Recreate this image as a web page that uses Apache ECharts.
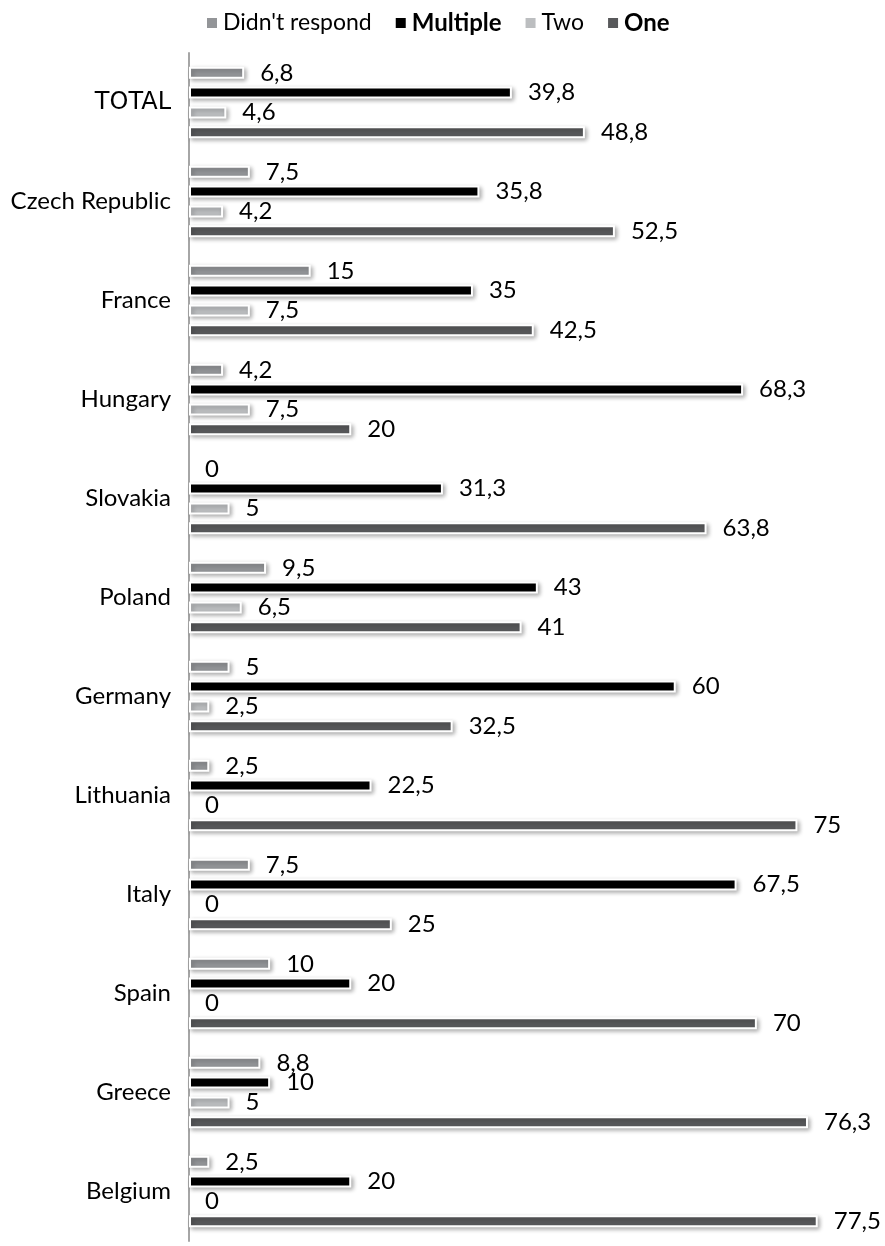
<!DOCTYPE html>
<html>
<head>
<meta charset="utf-8">
<script src="https://cdn.jsdelivr.net/npm/echarts@6/dist/echarts.min.js"></script>
<style>
  html, body { margin: 0; padding: 0; background: #fff; }
  #chart { width: 885px; height: 1246px; }
</style>
</head>
<body>
<div id="chart"></div>
<script>
// Countries, top to bottom
const categories = ['TOTAL', 'Czech Republic', 'France', 'Hungary', 'Slovakia', 'Poland',
  'Germany', 'Lithuania', 'Italy', 'Spain', 'Greece', 'Belgium'];

// Share of answers (%)
const didntRespond = [6.8, 7.5, 15, 4.2, 0, 9.5, 5, 2.5, 7.5, 10, 8.8, 2.5];
const multiple     = [39.8, 35.8, 35, 68.3, 31.3, 43, 60, 22.5, 67.5, 20, 10, 20];
const two          = [4.6, 4.2, 7.5, 7.5, 5, 6.5, 2.5, 0, 0, 0, 5, 0];
const one          = [48.8, 52.5, 42.5, 20, 63.8, 41, 32.5, 75, 25, 70, 76.3, 77.5];

const seriesNames = ["Didn't respond", 'Multiple', 'Two', 'One'];
const seriesData = [didntRespond, multiple, two, one];
const colors = ['#939598', '#000000', '#BCBEC0', '#58595B'];
const boldNames = { 'Multiple': true, 'One': true };

const FONT = 'Lato, "Open Sans", sans-serif';

const chart = echarts.init(document.getElementById('chart'), null, { renderer: 'canvas' });

// Zero-length bars get no border or shadow so nothing shows at the axis
const toItems = arr => arr.map(v => v === 0
  ? { value: v, itemStyle: { borderWidth: 0, shadowBlur: 0, shadowOffsetX: 0, shadowOffsetY: 0, shadowColor: 'rgba(0,0,0,0)' } }
  : v);

const series = seriesNames.map((name, i) => ({
  name,
  type: 'bar',
  data: toItems(seriesData[i]),
  barWidth: 12,
  barGap: '65%',
  itemStyle: {
    color: colors[i],
    borderColor: '#ffffff',
    borderWidth: 2,
    shadowColor: 'rgba(0,0,0,0.3)',
    shadowBlur: 4,
    shadowOffsetX: 2,
    shadowOffsetY: 2
  },
  label: {
    show: true,
    position: 'right',
    distance: 16,
    color: '#000',
    fontFamily: FONT,
    fontSize: 24,
    formatter: p => String(p.value).replace('.', ',')
  }
}));

chart.setOption({
  animation: false,
  backgroundColor: '#ffffff',
  color: colors,
  legend: {
    top: 6,
    left: 200,
    icon: 'rect',
    itemWidth: 12,
    itemHeight: 12,
    itemGap: 22,
    textStyle: { fontFamily: FONT, fontSize: 23, color: '#000' },
    data: seriesNames.map(n => ({
      name: n,
      textStyle: boldNames[n] ? { fontWeight: 'bold', fontSize: 24 } : { fontWeight: 'normal' }
    }))
  },
  grid: { left: 189, top: 53, width: 649, height: 1188, containLabel: false },
  xAxis: {
    type: 'value',
    min: 0,
    max: 80,
    show: false
  },
  yAxis: {
    type: 'category',
    inverse: true,
    data: categories,
    axisLine: { show: true, lineStyle: { color: '#a6a6a6', width: 2 } },
    axisTick: { show: false },
    axisLabel: {
      margin: 18,
      color: '#000',
      fontFamily: FONT,
      fontSize: 24,
      formatter: v => v === 'TOTAL' ? '{t|' + v + '}' : v,
      rich: {
        t: { fontFamily: '"DejaVu Sans", Verdana, sans-serif', fontSize: 24, color: '#000' }
      }
    }
  },
  series
});
</script>
</body>
</html>
